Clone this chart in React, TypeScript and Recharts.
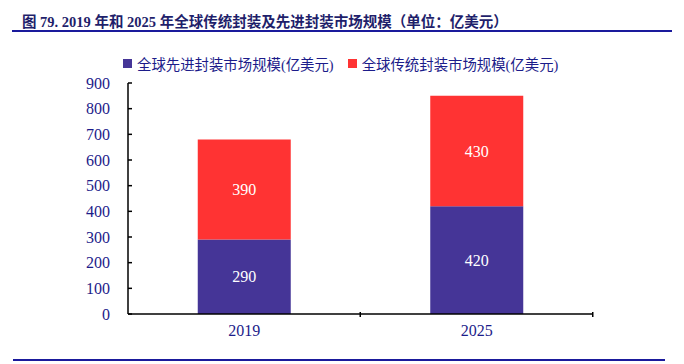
import React from 'react'
import { BarChart, Bar, XAxis, YAxis, LabelList } from 'recharts'

const years = ['2019', '2025']
const advanced = [290, 420]
const traditional = [390, 430]
const yTicks = [0, 100, 200, 300, 400, 500, 600, 700, 800, 900]

const seriesNames = {
  advanced: '全球先进封装市场规模(亿美元)',
  traditional: '全球传统封装市场规模(亿美元)',
}

const data = years.map((year, i) => ({
  year,
  advanced: advanced[i],
  traditional: traditional[i],
}))

const navy = '#1c1c8a'
const serif = '"Liberation Serif", "Times New Roman", "Noto Sans CJK SC", serif'

const XTick = (props: any) => {
  const { x, y, payload, index } = props
  // category boundary ticks (inward), half a band to the right of each label
  const half = 116
  return (
    <g>
      <text x={x} y={y + 14} textAnchor="middle" fill={navy} fontSize={16} fontFamily={serif}>
        {payload.value}
      </text>
      {index < years.length && (
        <line x1={x + half} x2={x + half} y1={y - 10} y2={y - 5} stroke="#000" strokeWidth={1.5} />
      )}
    </g>
  )
}

const LegendBox = () => (
  <div
    style={{
      position: 'absolute',
      left: 123,
      top: 53,
      display: 'flex',
      fontFamily: serif,
      fontSize: 14.4,
      color: navy,
      whiteSpace: 'nowrap',
    }}
  >
    <span style={{ display: 'flex', alignItems: 'center', marginRight: 14 }}>
      <span style={{ width: 9, height: 9, background: '#453597', marginRight: 5 }} />
      {seriesNames.advanced}
    </span>
    <span style={{ display: 'flex', alignItems: 'center' }}>
      <span style={{ width: 9, height: 9, background: '#ff3333', marginRight: 5 }} />
      {seriesNames.traditional}
    </span>
  </div>
)

export default function App() {
  return (
    <div style={{ position: 'absolute', left: 0, top: 0, width: 684, height: 364, background: '#fff' }}>
      <div
        style={{
          position: 'absolute',
          left: 22,
          top: 10,
          fontFamily: serif,
          fontWeight: 'bold',
          fontSize: 14.5,
          color: '#1f1f6b',
          whiteSpace: 'nowrap',
        }}
      >
        图 79. 2019 年和 2025 年全球传统封装及先进封装市场规模（单位：亿美元）
      </div>
      <div style={{ position: 'absolute', left: 12, top: 30, width: 660, height: 2, background: '#1a1a9c' }} />
      <div style={{ position: 'absolute', left: 13, top: 359, width: 652, height: 2, background: '#1a1a9c' }} />
      <LegendBox />
      <BarChart
        width={684}
        height={364}
        data={data}
        margin={{ top: 83, right: 91, bottom: 20, left: 68 }}
        barCategoryGap="30%"
      >
        <XAxis
          dataKey="year"
          axisLine={{ stroke: '#000', strokeWidth: 1.5 }}
          tickLine={false}
          tick={<XTick />}
          height={30}
          interval={0}
        />
        <YAxis
          domain={[0, 900]}
          ticks={yTicks}
          width={60}
          axisLine={{ stroke: '#000', strokeWidth: 1.5 }}
          tickLine={{ stroke: '#000', strokeWidth: 1.5 }}
          tickSize={-4}
          tickMargin={22}
          tick={{ fill: navy, fontSize: 16, fontFamily: serif }}
          interval={0}
        />
        <Bar dataKey="advanced" stackId="a" fill="#453597" isAnimationActive={false}>
          <LabelList dataKey="advanced" position="center" fill="#fff" fontSize={16} fontFamily={serif} />
        </Bar>
        <Bar dataKey="traditional" stackId="a" fill="#ff3333" isAnimationActive={false}>
          <LabelList dataKey="traditional" position="center" fill="#fff" fontSize={16} fontFamily={serif} />
        </Bar>
      </BarChart>
    </div>
  )
}
